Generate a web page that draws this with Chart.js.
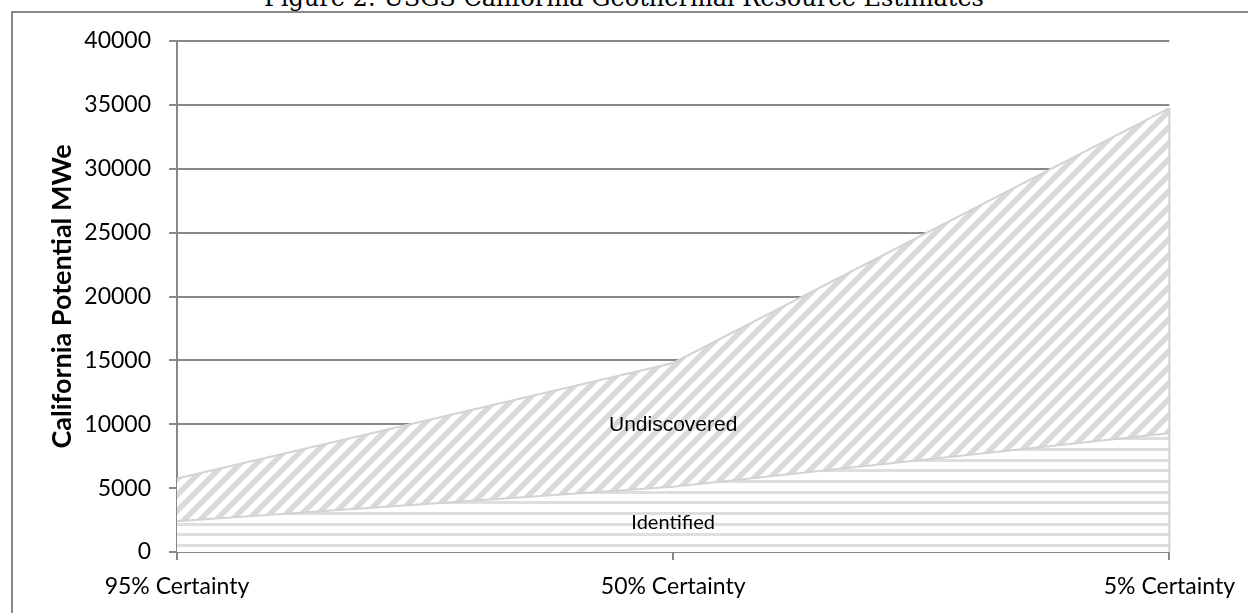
<!DOCTYPE html>
<html>
<head>
<meta charset="utf-8">
<script src="https://cdn.jsdelivr.net/npm/chart.js@4.4.1/dist/chart.umd.min.js"></script>
<style>
  html, body { margin: 0; padding: 0; background: #fff; overflow: hidden; }
  #wrap { position: relative; width: 1248px; height: 613px; }
  #caption {
    position: absolute; left: 0; top: -14px; width: 1248px;
    text-align: center; font-family: 'DejaVu Serif', serif; font-size: 24px;
    line-height: 24px; color: #000; white-space: nowrap;
  }
  #frame {
    position: absolute; left: 11px; top: 11px; width: 1400px; height: 800px;
    border-left: 2px solid #888; border-top: 2px solid #888;
  }
  #chart { position: absolute; left: 0; top: 0; }
</style>
</head>
<body>
<div id="wrap">
  <div id="caption">Figure 2: USGS California Geothermal Resource Estimates</div>
  <div id="frame"></div>
  <canvas id="chart" width="1248" height="613"></canvas>
</div>
<script>
const categories = ['95% Certainty', '50% Certainty', '5% Certainty'];
const identified = [2400, 5100, 9300];
const undiscovered = [3350, 9700, 25450];
const seriesNames = ['Identified', 'Undiscovered'];
const yTicks = [0, 5000, 10000, 15000, 20000, 25000, 30000, 35000, 40000];

function diagonalPattern() {
    let c = document.createElement('canvas');
    c.width = 32; c.height = 32;
    let g = c.getContext('2d');
    g.fillStyle = '#fff';
    g.fillRect(0, 0, 32, 32);
    g.strokeStyle = '#d9d9d9';
    g.lineWidth = 5.5;
    [-32, -16, 0, 16, 32].forEach(function (off) {
        g.beginPath();
        g.moveTo(off - 4, 36);
        g.lineTo(off + 36, -4);
        g.stroke();
    });
    return g.createPattern(c, 'repeat');
}

function horizontalPattern() {
    let c = document.createElement('canvas');
    c.width = 8; c.height = 32;
    let g = c.getContext('2d');
    g.fillStyle = '#fff';
    g.fillRect(0, 0, 8, 32);
    g.fillStyle = '#dedede';
    [0, 11, 21].forEach(function (y) { g.fillRect(0, y, 8, 3); });
    return g.createPattern(c, 'repeat');
}

// series names inside the bands at the middle category, plus the right edge of the area
const bandLabels = {
    id: 'bandLabels',
    afterDatasetsDraw(chart) {
        let ctx = chart.ctx;
        let y = chart.scales.y;
        let x = chart.scales.x;
        let last = categories.length - 1;
        let ex = x.getPixelForValue(last);
        ctx.save();
        ctx.strokeStyle = '#d3d3d3';
        ctx.lineWidth = 2;
        ctx.beginPath();
        ctx.moveTo(ex, y.getPixelForValue(0));
        ctx.lineTo(ex, y.getPixelForValue(identified[last] + undiscovered[last]));
        ctx.stroke();
        ctx.restore();

        let mid = 1;
        let px = x.getPixelForValue(mid);
        let base = 0;
        let fonts = ['20px Lato', '21px "Liberation Sans"'];
        [identified, undiscovered].forEach(function (arr, i) {
            let top = base + arr[mid];
            let py = y.getPixelForValue((base + top) / 2);
            ctx.save();
            ctx.font = fonts[i];
            ctx.fillStyle = '#000';
            ctx.textAlign = 'center';
            ctx.textBaseline = 'middle';
            ctx.fillText(seriesNames[i], px, py + (i === 0 ? 3 : 0));
            ctx.restore();
            base = top;
        });
    }
};

let ctx = document.getElementById('chart');
let resultChart = new Chart(ctx, {
    type: 'line',
    data: {
        labels: categories,
        datasets: [
            {
                label: seriesNames[0],
                data: identified,
                fill: 'origin',
                backgroundColor: horizontalPattern(),
                borderColor: '#d3d3d3',
                borderWidth: 2,
                pointRadius: 0,
                tension: 0
            },
            {
                label: seriesNames[1],
                data: undiscovered,
                fill: '-1',
                backgroundColor: diagonalPattern(),
                borderColor: '#d3d3d3',
                borderWidth: 2,
                pointRadius: 0,
                tension: 0
            }
        ]
    },
    options: {
        responsive: false,
        animation: false,
        plugins: {
            legend: { display: false },
            tooltip: { enabled: false }
        },
        layout: {
            padding: { left: 38, right: 78, top: 41, bottom: 0 }
        },
        scales: {
            x: {
                type: 'category',
                offset: false,
                grid: {
                    drawOnChartArea: false,
                    drawTicks: true,
                    tickLength: 8,
                    color: '#888',
                    lineWidth: 2
                },
                border: { display: true, color: '#888', width: 2 },
                ticks: {
                    color: '#000',
                    padding: 13,
                    maxRotation: 0,
                    font: { family: 'Lato', size: 23 }
                },
                afterFit(scale) { scale.height = 61; }
            },
            y: {
                stacked: true,
                min: 0,
                max: 40000,
                afterBuildTicks(scale) {
                    scale.ticks = yTicks.map(function (v) { return { value: v }; });
                },
                grid: {
                    color: '#888',
                    lineWidth: 2,
                    tickLength: 8
                },
                border: { display: true, color: '#888', width: 2 },
                ticks: {
                    color: '#000',
                    padding: 18,
                    font: { family: 'Lato', size: 23 },
                    callback: function (v) { return String(v); }
                },
                title: {
                    display: true,
                    text: 'California Potential MWe',
                    color: '#000',
                    padding: 8,
                    font: { family: 'Lato', size: 27, weight: 'bold' }
                },
                afterFit(scale) { scale.width = 139; }
            }
        }
    },
    plugins: [bandLabels]
});
</script>
</body>
</html>
